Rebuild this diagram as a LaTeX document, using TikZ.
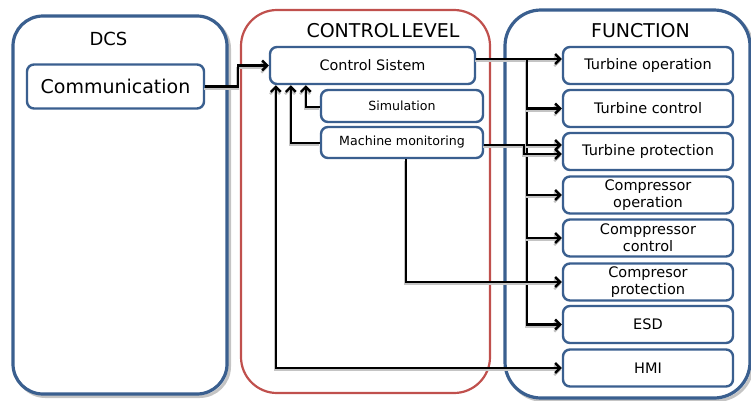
\documentclass[tikz,border=0pt]{standalone}
\usepackage{fontspec}
\setmainfont{DejaVu Sans}
\usetikzlibrary{arrows.meta,calc,shadows}
\definecolor{frameblue}{HTML}{3A5F8F}
\definecolor{framered}{HTML}{C0504D}
\definecolor{shade}{HTML}{C4C4C4}
\begin{document}
\begin{tikzpicture}[x=1pt,y=-1pt,
  >={Straight Barb[length=5pt,width=10pt]},
  panel/.style={draw=frameblue, line width=3.2pt, fill=white, inner sep=0pt,
    drop shadow={shadow xshift=2.5pt, shadow yshift=-2.5pt, opacity=1,
      fill=none, draw=shade, line width=3pt}},
  redpanel/.style={draw=framered, line width=2.2pt, fill=white, inner sep=0pt},
  box/.style={draw=frameblue, line width=2.4pt, rounded corners=7pt, fill=white,
    inner sep=0pt, align=center},
  fbox/.style={box, minimum width=170pt, minimum height=37pt,
    font=\fontsize{14.5}{17}\selectfont},
  title/.style={font=\fontsize{19}{22}\selectfont, inner sep=0pt},
  conn/.style={line width=2.4pt, line join=miter,
    preaction={draw=shade, line width=2.4pt, transform canvas={shift={(-0.8pt,-2.2pt)}}}}
]
\useasboundingbox (0,0) rectangle (751,400);

% three columns
\node[panel, rounded corners=30pt, minimum width=214pt, minimum height=378pt] (dcspanel) at (120,205) {};
\node[redpanel, rounded corners=36pt, minimum width=249pt, minimum height=383pt] (ctlpanel) at (365.5,201.5) {};
\node[panel, rounded corners=36pt, minimum width=245pt, minimum height=388pt] (funpanel) at (627.5,204) {};

\node[title, font=\fontsize{18}{20}\selectfont] (tdcs) at (108.5,38.5) {DCS};
\node[title] (tctl) at (383,31) {CONTROL\kern2pt LEVEL};
\node[title] (tfun) at (640.5,31) {FUNCTION};

% DCS column
\node[box, minimum width=177pt, minimum height=44pt, font=\fontsize{19}{22}\selectfont] (comm) at (115.5,86.5) {Communication};

% control level column
\node[box, minimum width=205pt, minimum height=37pt, font=\fontsize{14.4}{17}\selectfont] (cs) at (372.5,65.5) {Control Sistem};
\node[box, minimum width=162pt, minimum height=32pt, font=\fontsize{12.6}{15}\selectfont] (sim) at (402,106) {Simulation};
\node[box, minimum width=162pt, minimum height=31pt, font=\fontsize{12.6}{15}\selectfont] (mm) at (402,142.5) {Machine monitoring};

% function column
\node[fbox] (f1) at (648,65.5) {Turbine operation};
\node[fbox] (f2) at (648,108.5) {Turbine control};
\node[fbox] (f3) at (648,151.5) {Turbine protection};
\node[fbox] (f4) at (648,195) {Compressor\\operation};
\node[fbox] (f5) at (648,238) {Comppressor\\control};
\node[fbox] (f6) at (648,282) {Compresor\\protection};
\node[fbox] (f7) at (648,324.5) {ESD};
\node[fbox] (f8) at (648,368) {HMI};

% connectors
\coordinate (bustop) at (527,59);
\draw[conn,->] (comm.east) -- ++(33,0) |- (cs.west);
\draw[conn,->] (cs.east |- bustop) -- (f1.west |- bustop);
\draw[conn,->] (bustop) |- (f7.west);
\draw[conn,->] (bustop |- f2.west) -- (f2.west);
\draw[conn,->] ($(bustop)+(0,86)$) -- (f3.west |- 0,145);
\draw[conn,->] (bustop |- f4.west) -- (f4.west);
\draw[conn,->] (bustop |- f5.west) -- (f5.west);
\draw[conn,->] (mm.east |- 0,145) -- (524,145) -- (524,154) -- (f3.west |- 0,154);
\draw[conn,->] (mm.south -| 406,0) |- (f6.west);
\draw[conn,->] (sim.west |- 0,107) -| ($(cs.south west)+(37,0)$);
\draw[conn,->] (mm.west |- 0,143) -| ($(cs.south west)+(22,0)$);
\draw[conn,<->] ($(cs.south west)+(7,0)$) |- (f8.west);
\end{tikzpicture}
\end{document}
